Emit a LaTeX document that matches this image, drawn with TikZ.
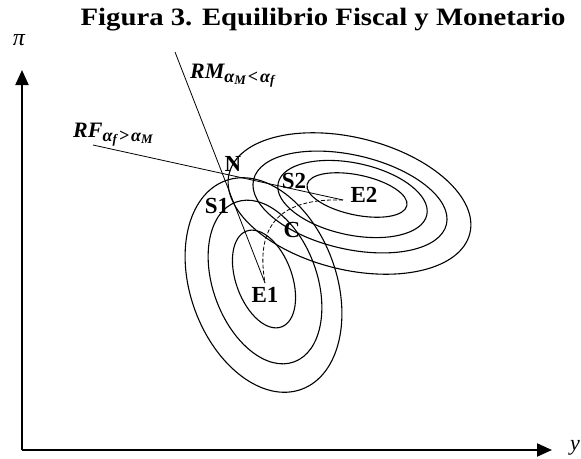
\documentclass[tikz,border=0pt]{standalone}
\usepackage{amsmath}
\usepackage{fontspec}
\setmainfont{Liberation Serif}
\newfontfamily\titlefont{Liberation Serif}[FakeStretch=1.15]
\usepackage{tikz}
\usetikzlibrary{arrows.meta}
\newcommand{\indice}[3]{\raisebox{-#1}{\fontsize{#2}{#2}\selectfont #3}}

\begin{document}
\begin{tikzpicture}[x=1pt, y=-1pt,
      curva/.style={line width=1.1pt},
      recta/.style={line width=0.8pt},
      eje/.style={line width=2pt, -{Triangle[length=15pt, width=13pt]}},
      lbl/.style={font=\fontsize{23}{25}\selectfont\bfseries, inner sep=0pt},
      regla/.style={font=\fontsize{22}{24}\selectfont\bfseries\itshape, inner sep=0pt, anchor=base west}
    ]
    \useasboundingbox (0,0) rectangle (581,458);
    \node[font=\titlefont\fontsize{25}{28}\selectfont\bfseries, anchor=base] (titulo) at (323,25) {Figura 3. Equilibrio Fiscal y Monetario};
    % ejes
    \coordinate (O) at (22,450);
    \coordinate (pitop) at (22,70);
    \coordinate (ytop) at (552,450);
    \draw[eje] (O) -- (pitop);
    \draw[eje] (O) -- (ytop);
    \node[font=\fontsize{24}{26}\selectfont\itshape, inner sep=0pt] (pilab) at (19,40) {π};
    \node[font=\fontsize{22}{24}\selectfont\itshape, inner sep=0pt] (ylab) at (575,448) {y};
    % curvas de nivel
    \foreach \cx/\cy/\rx/\ry in {264/279/28/51, 265/282/52/85, 263.5/285/73/111}
      \draw[curva, shift={(\cx,\cy)}, rotate=20] (0,0) ellipse [x radius=\rx, y radius=\ry];
    \foreach \cx/\cy/\rx/\ry/\r in {357/195/51/20/-12, 352.5/199/76/36/-12, 350/202/99/47/-13, 349.5/203.5/124/66/-14}
      \draw[curva, shift={(\cx,\cy)}, rotate=\r] (0,0) ellipse [x radius=\rx, y radius=\ry];
    % reglas
    \coordinate (pE1) at (265,283);
    \coordinate (pE2) at (343,200);
    \coordinate (rmtop) at (175,52);
    \coordinate (rfleft) at (93,145);
    \draw[recta] (rmtop) -- (pE1);
    \draw[recta] (rfleft) -- (pE2);
    \draw[recta, dash pattern=on 4pt off 2pt] (pE2) .. controls (280,198) and (255,225) .. (pE1);
    \node[regla] (rmlab) at (190,78) {RM\indice{4pt}{18}{α\indice{2.5pt}{13}{M}\hspace{2pt}<\hspace{2pt}α\indice{2.5pt}{13}{f}}};
    \node[regla] (rflab) at (73,137) {RF\indice{4pt}{18}{α\indice{2.5pt}{13}{f}\hspace{2pt}>\hspace{2pt}α\indice{2.5pt}{13}{M}}};
    \node[lbl] (lN) at (233,164) {N};
    \node[lbl] (lS1) at (217,206) {S1};
    \node[lbl] (lS2) at (294,181) {S2};
    \node[lbl] (lC) at (292,230) {C};
    \node[lbl] (lE1) at (265,295) {E1};
    \node[lbl] (lE2) at (364,195) {E2};
  \end{tikzpicture}
\end{document}
